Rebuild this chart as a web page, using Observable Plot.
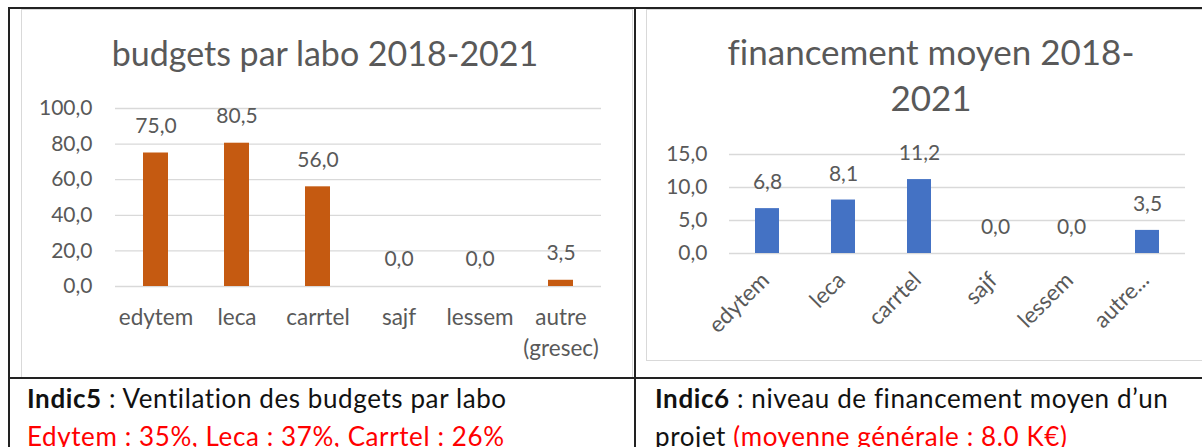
<!DOCTYPE html>
<html><head><meta charset="utf-8">
<script src="https://cdn.jsdelivr.net/npm/d3@7"></script>
<script src="https://cdn.jsdelivr.net/npm/@observablehq/plot@0.6"></script>
<style>
body{margin:0;background:#fff;font-family:Lato,"Open Sans",sans-serif;font-variant-ligatures:none;}
#page{position:relative;width:1202px;height:447px;overflow:hidden;background:#fff;}
.abs{position:absolute;}
.line{position:absolute;background:#222;}
.frame{position:absolute;border:1px solid #d9d9d9;box-sizing:border-box;}
.title{position:absolute;color:#595959;font-weight:400;text-align:center;white-space:nowrap;}
.cap{position:absolute;font-size:26px;letter-spacing:0.6px;color:#111;white-space:nowrap;line-height:37.5px;}
.red{color:#ff0000;}
.sp{text-decoration:underline dotted #e03030;text-underline-offset:4px;}
svg{overflow:visible;font-variant-ligatures:none;}
</style></head><body><div id="page">
<div class="frame" style="left:21px;top:9px;width:612px;height:370px;"></div>
<div class="frame" style="left:646px;top:9px;width:600px;height:352px;"></div>
<div class="title" id="t1" style="left:25px;width:600px;top:31px;font-size:34px;line-height:44px;"></div>
<div class="title" id="t2" style="left:636px;width:590px;top:28px;font-size:35px;line-height:46px;"></div>
<div id="c1" class="abs" style="left:0px;top:80px;"></div>
<div id="c2" class="abs" style="left:636px;top:120px;"></div>
<div class="line" style="left:8px;top:7px;width:1194px;height:2px;"></div>
<div class="line" style="left:8px;top:7px;width:2px;height:440px;"></div>
<div class="line" style="left:634px;top:7px;width:2px;height:440px;"></div>
<div class="line" style="left:8px;top:377px;width:1194px;height:2px;"></div>
<div class="cap" id="cap1" style="left:27px;top:380px;"></div>
<div class="cap" id="cap2" style="left:655px;top:380px;"></div>
</div>
<script>
const labs = ["edytem","leca","carrtel","sajf","lessem","autre"];
const labelsLeft = ["edytem","leca","carrtel","sajf","lessem","autre\n(gresec)"];
const labelsRight = ["edytem","leca","carrtel","sajf","lessem","autre..."];
const budgets = [75.0, 80.5, 56.0, 0.0, 0.0, 3.5];
const financement = [6.8, 8.1, 11.2, 0.0, 0.0, 3.5];
const budgetTicks = [0, 20, 40, 60, 80, 100];
const financementTicks = [0, 5, 10, 15];
const title1 = "budgets par labo 2018-2021";
const title2 = ["financement moyen 2018-", "2021"];

const fmt = d => d.toFixed(1).replace(".", ",");
const grey = "#595959";

document.getElementById("t1").textContent = title1;
document.getElementById("t2").innerHTML = title2.join("<br>");
document.getElementById("cap1").innerHTML =
  '<b>Indic5</b> : Ventilation des budgets par labo<br>' +
  '<span class="red"><span class="sp">Edytem</span> : 35%, <span class="sp">Leca</span> : 37%, <span class="sp">Carrtel</span> : 26%</span>';
document.getElementById("cap2").innerHTML =
  '<b>Indic6</b> : niveau de financement moyen d\u2019un<br>' +
  'projet <span class="red">(moyenne générale : 8.0 K€)</span>';

const d1 = labs.map((l, i) => ({lab: l, v: budgets[i]}));
const d2 = labs.map((l, i) => ({lab: l, v: financement[i]}));

const chart1 = Plot.plot({
  width: 632, height: 295,
  marginLeft: 115, marginRight: 31, marginTop: 28, marginBottom: 89,
  style: {fontFamily: "Lato, 'Open Sans', sans-serif", background: "transparent", color: grey},
  x: {domain: labs, paddingInner: 0.69, paddingOuter: 0.345, label: null},
  y: {domain: [0, 100], label: null},
  marks: [
    Plot.ruleY(budgetTicks, {stroke: "#d9d9d9", strokeWidth: 1.3}),
    Plot.barY(d1, {x: "lab", y: "v", fill: "#c55a11"}),
    Plot.text(d1, {x: "lab", y: "v", text: d => fmt(d.v), dy: -27, fontSize: 21, fill: grey}),
    Plot.axisY({ticks: budgetTicks, tickFormat: fmt, tickSize: 0, tickPadding: 23, fontSize: 21, fill: grey, label: null}),
    Plot.axisX({tickFormat: d => labelsLeft[labs.indexOf(d)], tickSize: 0, tickPadding: 16, fontSize: 22.5, lineHeight: 1.38, fill: grey, label: null})
  ]
});
document.getElementById("c1").append(chart1);

const chart2 = Plot.plot({
  width: 566, height: 240,
  marginLeft: 93, marginRight: 17, marginTop: 34, marginBottom: 107,
  style: {fontFamily: "Lato, 'Open Sans', sans-serif", background: "transparent", color: grey},
  x: {domain: labs, paddingInner: 0.684, paddingOuter: 0.342, label: null},
  y: {domain: [0, 15], label: null},
  marks: [
    Plot.ruleY(financementTicks, {stroke: "#d9d9d9", strokeWidth: 1.3}),
    Plot.barY(d2, {x: "lab", y: "v", fill: "#4472c4"}),
    Plot.text(d2, {x: "lab", y: "v", text: d => fmt(d.v), dy: -26, fontSize: 21, fill: grey}),
    Plot.axisY({ticks: financementTicks, tickFormat: fmt, tickSize: 0, tickPadding: 22, fontSize: 21, fill: grey, label: null}),
    Plot.axisX({tickFormat: d => labelsRight[labs.indexOf(d)], tickSize: 0, tickPadding: 23, dx: -2, tickRotate: -45, fontSize: 22.5, fill: grey, label: null})
  ]
});
document.getElementById("c2").append(chart2);
</script>
</body></html>
